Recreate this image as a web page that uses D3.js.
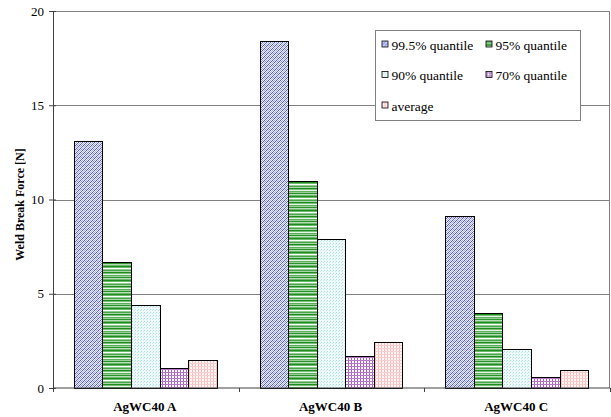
<!DOCTYPE html>
<html><head><meta charset="utf-8">
<script src="https://cdn.jsdelivr.net/npm/d3@7"></script>
<style>body{margin:0;background:#fff}svg{display:block}</style>
</head><body>
<script>
const categories = ["AgWC40 A", "AgWC40 B", "AgWC40 C"];
const seriesNames = ["99.5% quantile", "95% quantile", "90% quantile", "70% quantile", "average"];
const q995 = [13.1, 18.4, 9.1];
const q95 = [6.65, 10.95, 3.96];
const q90 = [4.37, 7.89, 2.05];
const q70 = [1.02, 1.66, 0.57];
const avg = [1.45, 2.4, 0.92];
const yTicks = [0, 5, 10, 15, 20];
const seriesValues = [q995, q95, q90, q70, avg];

const FONT = '"Liberation Serif", "Times New Roman", serif';
const W = 611, H = 417;
const m = {l: 53, r: 1, t: 11, b: 29};
const svg = d3.select("body").append("svg").attr("width", W).attr("height", H);
const defs = svg.append("defs");

function pat(id, w, h, build) {
  const p = defs.append("pattern").attr("id", id).attr("patternUnits", "userSpaceOnUse")
    .attr("width", w).attr("height", h);
  build(p);
}
function px(p, x, y, w, h, c) {
  p.append("rect").attr("x", x).attr("y", y).attr("width", w).attr("height", h).attr("fill", c)
    .attr("shape-rendering", "crispEdges");
}
pat("p0", 4, 4, p => {
  px(p, 0, 0, 4, 4, "#eceeff");
  px(p, 0, 0, 1, 1, "#5058dc"); px(p, 2, 0, 1, 1, "#a4a9f0");
  px(p, 1, 1, 1, 1, "#8a90ea"); px(p, 3, 1, 1, 1, "#5058dc");
  px(p, 0, 2, 1, 1, "#a4a9f0"); px(p, 2, 2, 1, 1, "#5058dc");
  px(p, 1, 3, 1, 1, "#6a72e4"); px(p, 3, 3, 1, 1, "#b8bcf4");
});
pat("p1", 4, 14, p => {
  const rows = ["#1c8c1c","#6cb86c","#ffffff","#8fca8f","#4aa54a","#a8d6a8","#1c8c1c","#78be78","#e8f5e8","#5aae5a","#98cf98","#2a942a","#b8dcb8","#6cb86c"];
  rows.forEach((c, i) => px(p, 0, i, 4, 1, c));
});
pat("p2", 3, 3, p => {
  px(p, 0, 0, 3, 3, "#eff9f9");
  px(p, 0, 0, 1, 1, "#a6dede");
  px(p, 2, 1, 1, 1, "#c4e9e9");
});
pat("p3", 3, 3, p => {
  px(p, 0, 0, 3, 3, "#ffffff");
  px(p, 0, 0, 1, 3, "#a860c4");
  px(p, 0, 0, 3, 1, "#b676cc");
});
pat("p4", 3, 3, p => {
  px(p, 0, 0, 3, 3, "#fff6f6");
  px(p, 0, 0, 1, 3, "#f8bcbc");
  px(p, 0, 0, 3, 1, "#facccc");
});
const fills = ["url(#p0)", "url(#p1)", "url(#p2)", "url(#p3)", "url(#p4)"];

const x0 = d3.scaleBand().domain(categories).range([m.l, W - m.r]).paddingInner(0).paddingOuter(0);
const x1 = d3.scaleBand().domain(d3.range(seriesNames.length)).range([0, x0.bandwidth()])
  .paddingInner(0).paddingOuter(0.75);
const y = d3.scaleLinear().domain([0, 20]).range([H - m.b, m.t]);

svg.append("g").selectAll("line").data(yTicks.filter(d => d > 0)).join("line")
  .attr("x1", m.l).attr("x2", W - m.r).attr("y1", d => Math.round(y(d)) + 0.5).attr("y2", d => Math.round(y(d)) + 0.5)
  .attr("stroke", "#808080").attr("stroke-width", 1);
svg.append("line").attr("x1", W - m.r - 0.5).attr("x2", W - m.r - 0.5).attr("y1", y(20)).attr("y2", y(0))
  .attr("stroke", "#808080");

const g = svg.append("g");
categories.forEach((c, ci) => {
  seriesValues.forEach((vals, si) => {
    g.append("rect")
      .attr("x", x0(c) + x1(si)).attr("width", x1.bandwidth())
      .attr("y", y(vals[ci])).attr("height", y(0) - y(vals[ci]))
      .attr("fill", fills[si]).attr("stroke", "#000").attr("stroke-width", 1)
      .attr("shape-rendering", "crispEdges");
  });
});

const yAxis = svg.append("g").attr("transform", `translate(${m.l},0)`)
  .call(d3.axisLeft(y).tickValues(yTicks).tickSize(4).tickSizeOuter(0).tickPadding(5));
yAxis.attr("font-family", null);
yAxis.select(".domain").attr("stroke", "#404040");
yAxis.selectAll(".tick line").attr("stroke", "#404040").attr("x2", 3).attr("x1", -4);
yAxis.selectAll("text").style("font-family", FONT).style("font-size", "13px").attr("fill", "#000");

const xAxisG = svg.append("g").attr("transform", `translate(0,${y(0)})`);
xAxisG.append("line").attr("x1", m.l).attr("x2", W - m.r).attr("stroke", "#404040");
const bounds = categories.map(c => x0(c)).concat([W - m.r]);
xAxisG.selectAll(".tk").data(bounds).join("line").attr("class", "tk")
  .attr("x1", d => Math.round(d) + 0.5).attr("x2", d => Math.round(d) + 0.5).attr("y1", 0).attr("y2", 4)
  .attr("stroke", "#404040");
xAxisG.selectAll("text").data(categories).join("text")
  .attr("x", d => x0(d) + x0.bandwidth() / 2 - 1).attr("y", 23)
  .attr("text-anchor", "middle").style("font-family", FONT)
  .style("font-weight", "bold").style("font-size", "13px").text(d => d);

svg.append("text").attr("transform", `translate(24,${(y(0) + y(20)) / 2 + 5}) rotate(-90)`)
  .attr("text-anchor", "middle").style("font-family", FONT)
  .style("font-weight", "bold").style("font-size", "12px").text("Weld Break Force [N]");

const lg = svg.append("g").attr("transform", "translate(375.5,30.5)");
lg.append("rect").attr("width", 205).attr("height", 90).attr("fill", "#fff").attr("stroke", "#808080");
seriesNames.forEach((s, i) => {
  const col = i % 2, row = Math.floor(i / 2);
  const gx = 6 + col * 104, gy = 15 + row * 30.5;
  lg.append("rect").attr("x", gx + 0.5).attr("y", gy - 4.5).attr("width", 6).attr("height", 6)
    .attr("fill", fills[i]).attr("stroke", "#000").attr("stroke-width", 0.8);
  lg.append("text").attr("x", gx + 10).attr("y", gy + 4)
    .style("font-family", FONT).style("font-size", "13.5px").text(s);
});
</script>
</body></html>
